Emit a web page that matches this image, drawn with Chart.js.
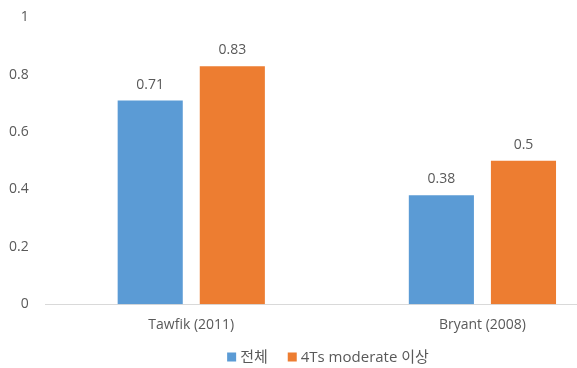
<!DOCTYPE html>
<html>
<head>
<meta charset="utf-8">
<script src="https://cdn.jsdelivr.net/npm/chart.js@4"></script>
<style>
  html, body { margin: 0; padding: 0; background: #fff; }
  #wrap { width: 577px; height: 368px; overflow: hidden; }
</style>
</head>
<body>
<div id="wrap"><canvas id="studyChart" width="656" height="368"></canvas></div>
<script>
const studies = ['Tawfik (2011)', 'Bryant (2008)'];
const allPatients = [0.71, 0.38];
const moderateOrHigher = [0.83, 0.5];
const seriesNames = ['전체', '4Ts moderate 이상'];

const textColor = '#595959';
const baseFont = '"Open Sans", "Noto Sans CJK KR", sans-serif';

// writes each bar's value just above it
const valueLabels = {
  id: 'valueLabels',
  afterDatasetsDraw(chart) {
    const ctx = chart.ctx;
    ctx.save();
    ctx.fillStyle = textColor;
    ctx.font = '14px ' + baseFont;
    ctx.textAlign = 'center';
    ctx.textBaseline = 'bottom';
    chart.data.datasets.forEach((ds, i) => {
      chart.getDatasetMeta(i).data.forEach((bar, j) => {
        ctx.fillText(ds.data[j], bar.x, bar.y - 9);
      });
    });
    ctx.restore();
  }
};

// small square legend centred under the axis
const bottomLegend = {
  id: 'bottomLegend',
  afterDraw(chart) {
    const ctx = chart.ctx;
    const box = 9, textGap = 4, itemGap = 20;
    const y = 357;
    ctx.save();
    ctx.font = '15px ' + baseFont;
    ctx.textBaseline = 'middle';
    const items = chart.data.datasets.map(ds => ({
      text: ds.label,
      color: ds.backgroundColor,
      w: box + textGap + ctx.measureText(ds.label).width
    }));
    const total = items.reduce((s, it) => s + it.w, 0) + itemGap * (items.length - 1);
    let x = chart.width / 2 - total / 2;
    items.forEach(it => {
      ctx.fillStyle = it.color;
      ctx.fillRect(x, y - box / 2, box, box);
      ctx.fillStyle = textColor;
      ctx.fillText(it.text, x + box + textGap, y + 1);
      x += it.w + itemGap;
    });
    ctx.restore();
  }
};

new Chart(document.getElementById('studyChart'), {
  type: 'bar',
  data: {
    labels: studies,
    datasets: [{
      label: seriesNames[0],
      data: allPatients,
      backgroundColor: '#5B9BD5',
      categoryPercentage: 0.564,
      barPercentage: 0.793
    }, {
      label: seriesNames[1],
      data: moderateOrHigher,
      backgroundColor: '#ED7D31',
      categoryPercentage: 0.564,
      barPercentage: 0.793
    }]
  },
  options: {
    responsive: false,
    animation: false,
    layout: { padding: { top: 13, right: 28, left: 0, bottom: 31 } },
    plugins: {
      tooltip: { enabled: false },
      legend: { display: false }
    },
    scales: {
      y: {
        min: 0,
        max: 1,
        ticks: {
          stepSize: 0.2,
          color: textColor,
          font: { size: 14, family: baseFont },
          padding: 9,
          callback: v => String(Math.round(v * 10) / 10)
        },
        grid: { display: false },
        border: { display: false }
      },
      x: {
        ticks: {
          color: textColor,
          font: { size: 14, family: baseFont },
          padding: 4
        },
        grid: { display: false },
        border: { color: '#d9d9d9', width: 1 }
      }
    }
  },
  plugins: [valueLabels, bottomLegend]
});
</script>
</body>
</html>
